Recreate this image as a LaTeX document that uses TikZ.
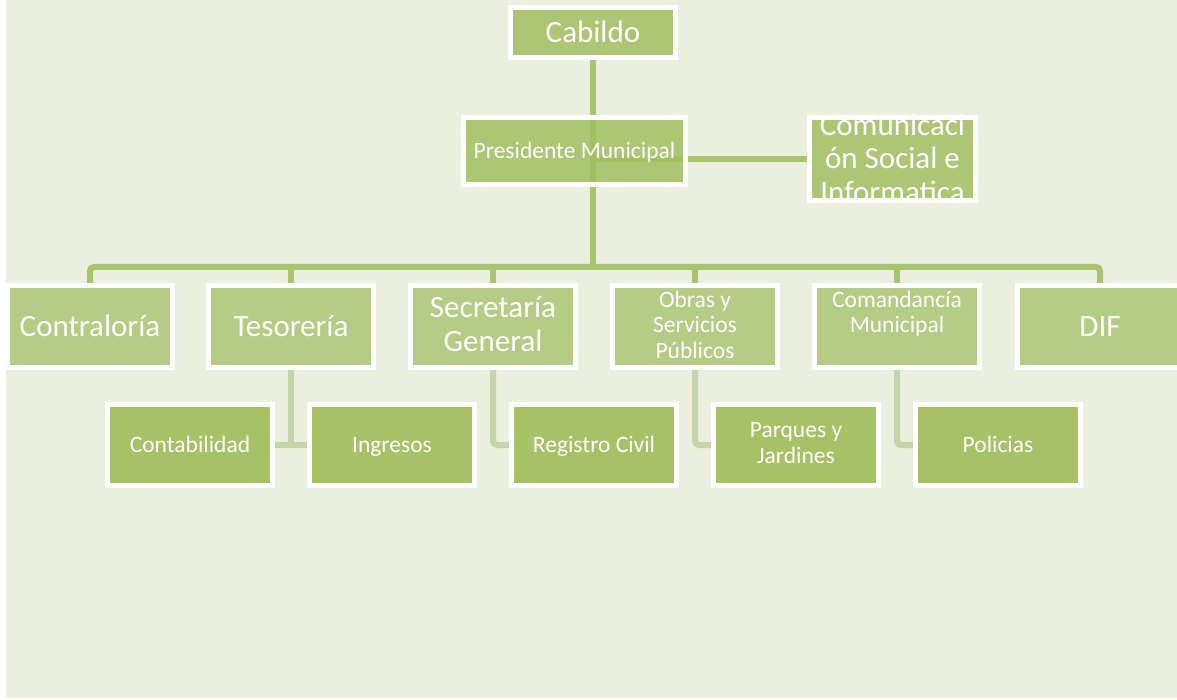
\documentclass[tikz,border=0pt]{standalone}
\usepackage{fontspec}
\setmainfont{Carlito}
\usetikzlibrary{backgrounds}
\definecolor{bgc}{RGB}{235,239,223}
\definecolor{topc}{RGB}{173,198,117}
\definecolor{presc}{RGB}{162,191,98}
\definecolor{midc}{RGB}{180,204,132}
\definecolor{lowc}{RGB}{166,193,102}
\definecolor{linec}{RGB}{168,196,108}
\definecolor{linelc}{RGB}{196,213,167}
\newcommand{\mystrut}{\rule[-0.17em]{0pt}{1em}}
\newcommand{\myendstrut}{\rule[-0.05em]{0pt}{0.5em}}
\begin{document}
\begin{tikzpicture}[x=1pt,y=-1pt,
  struts/.style={execute at begin node=\mystrut, execute at end node=\mystrut},
  box/.style={draw=white,line width=5pt,inner sep=0pt,text=white,align=center,struts},
  multi/.style={execute at end node=\myendstrut},
  big/.style={font=\fontsize{31}{34}\selectfont},
  small/.style={font=\fontsize{23.5}{25.5}\selectfont},
  rowtwo/.style={box,fill=midc,minimum width=165pt,minimum height=82pt},
  rowthree/.style={box,fill=lowc,minimum width=165pt,minimum height=81pt},
  conn/.style={draw=linec,line width=6pt,rounded corners=4pt},
  connl/.style={draw=linelc,line width=6pt,rounded corners=4pt}]
\useasboundingbox (0,0) rectangle (1177,700);

% top
\node[box,big,fill=topc,minimum width=165pt,minimum height=50pt] (cab) at (593,32.5) {Cabildo};
\node[box,small,fill=presc,fill opacity=0.85,text opacity=1,minimum width=222pt,minimum height=67pt] (pres) at (574.5,151) {Presidente Municipal};
\node[box,fill=topc,minimum width=166pt,minimum height=83pt] (com) at (892.5,159) {};
\node[big,text=white,align=center,inner sep=0pt,struts,font=\fontsize{31}{33.5}\selectfont] (comt) at (892.5,160.5) {Comunicaci\\ón Social e\\Informatica};

% row two
\node[rowtwo,big] (contra) at (90,326.5) {Contraloría};
\node[rowtwo,big] (teso) at (291,326.5) {Tesorería};
\node[rowtwo,big,multi] (secre) at (493,326.5) {Secretaría\\General};
\node[rowtwo,small,multi] (obras) at (695,326.5) {Obras y\\Servicios\\Públicos};
\node[rowtwo,small,multi] (coman) at (897,326.5) {Comandancía\\Municipal\\\phantom{P}};
\node[rowtwo,big] (dif) at (1100,326.5) {DIF};

% row three
\node[rowthree,small] (conta) at (190,445) {Contabilidad};
\node[rowthree,small] (ingre) at (392,445) {Ingresos};
\node[rowthree,small] (regis) at (594,445) {Registro Civil};
\node[rowthree,small,multi] (parq) at (796,445) {Parques y\\Jardines};
\node[rowthree,small] (poli) at (998,445) {Policias};

\coordinate (bus) at (593,267);

\begin{scope}[on background layer]
\fill[bgc] (6,0) rectangle (1177,698);
\draw[conn] (cab.south) -- (bus);
\draw[conn] (cab.south |- com.west) -- (com.west);
\draw[conn] (contra.north) -- (contra.north |- bus) -- (dif.north |- bus) -- (dif.north);
\foreach \n in {teso,secre,obras,coman} \draw[conn] (\n.north) -- (\n.north |- bus);
\draw[connl] (teso.south) -- (teso.south |- conta.east);
\draw[connl] (conta.east) -- (ingre.west);
\draw[connl] (secre.south) -- (secre.south |- regis.west) -- (regis.west);
\draw[connl] (obras.south) -- (obras.south |- parq.west) -- (parq.west);
\draw[connl] (coman.south) -- (coman.south |- poli.west) -- (poli.west);
\end{scope}
\end{tikzpicture}
\end{document}
